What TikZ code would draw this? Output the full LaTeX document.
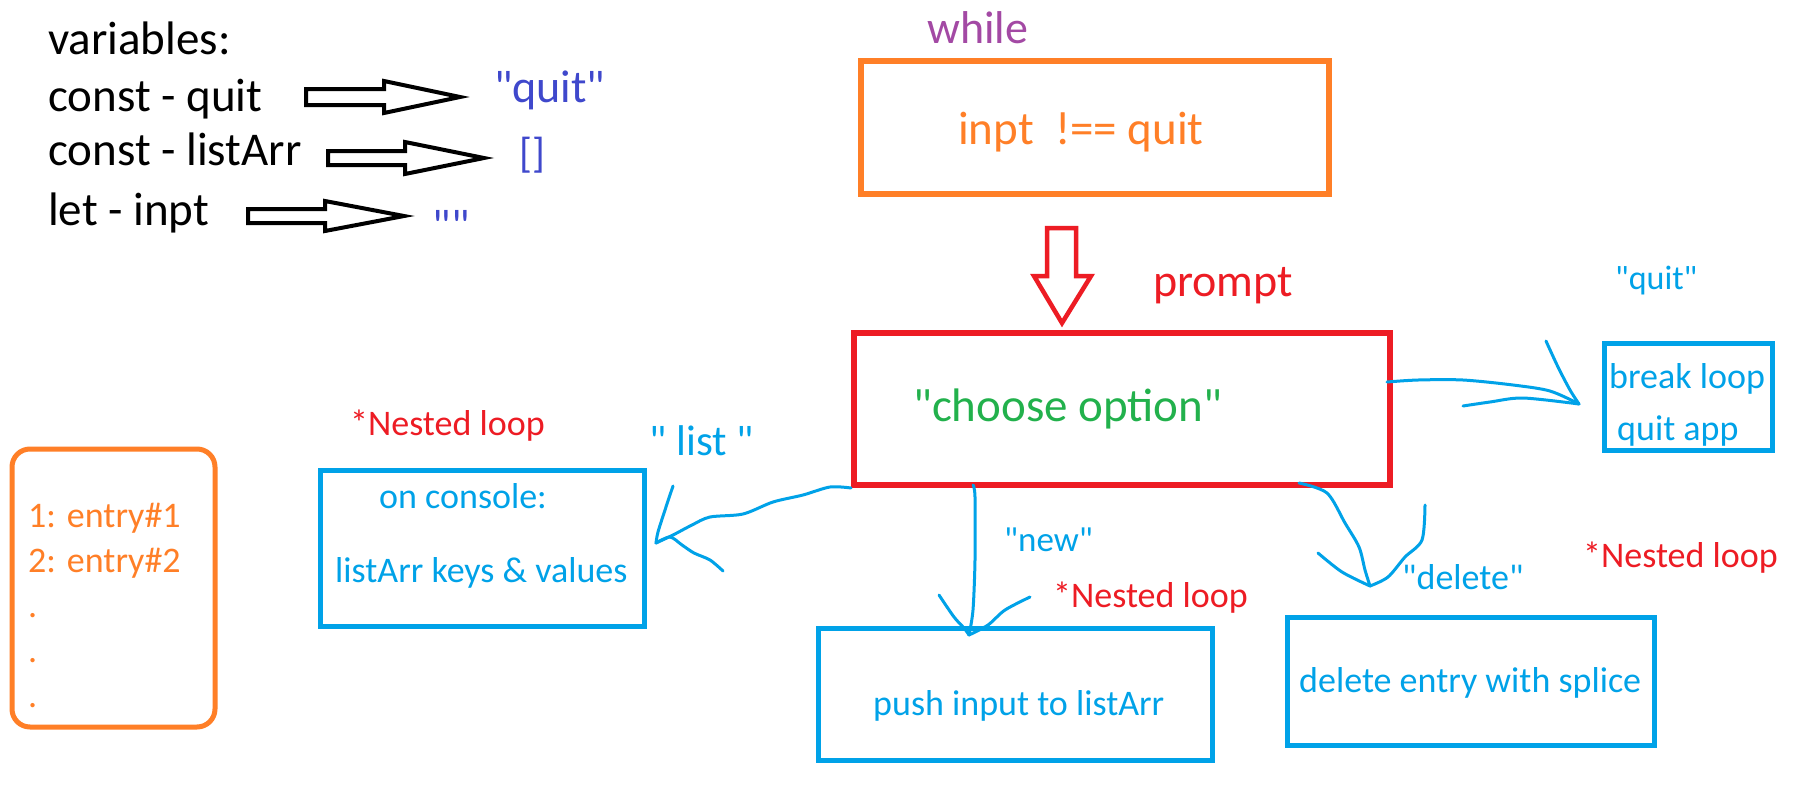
\documentclass[tikz,border=0pt]{standalone}
\usepackage{fontspec}
\setmainfont{Carlito}[Ligatures=TeXOff]
\definecolor{indig}{HTML}{3F48CC}
\definecolor{purp}{HTML}{A349A4}
\definecolor{orng}{HTML}{FF7F27}
\definecolor{rred}{HTML}{ED1C24}
\definecolor{grn}{HTML}{22B14C}
\definecolor{sky}{HTML}{00A2E8}
\begin{document}
\begin{tikzpicture}[x=1pt,y=-1pt,
  txt/.style={inner sep=0pt, anchor=base west},
  fs/.style={font=\fontsize{#1}{#1}\selectfont},
  boxed/.style={draw, rectangle, inner sep=0pt},
  pen/.style={draw=sky, line width=3pt, line cap=round, line join=round},
  hollow/.style={draw=black, line width=4pt, line join=miter, fill=white}]
\fill[white] (0,0) rectangle (1805,796);
\useasboundingbox (0,0) rectangle (1805,796);

% ---- variables block ----
\node[txt,fs=47] (vars) at (48,54) {variables:};
\node[txt,fs=47] (cq) at (48,111) {const - quit};
\node[txt,fs=47] (cl) at (48,165) {const - listArr};
\node[txt,fs=47] (li) at (48,225) {let - inpt};
\node[txt,fs=46,text=indig] (vq) at (494,102) {"quit"};
\node[inner sep=0pt,anchor=base,fs=42,text=indig] (vl) at (532,167) {[]};
\node[inner sep=0pt,anchor=base,fs=46,text=indig] (vi) at (451,241) {""};

% hollow arrows
\draw[hollow] (306,89) -- (384,89) -- (384,81) -- (460,97) -- (384,113) -- (384,105) -- (306,105) -- cycle;
\draw[hollow] (328,151) -- (405,151) -- (405,142) -- (484,158) -- (405,174) -- (405,165) -- (328,165) -- cycle;
\draw[hollow] (248,209) -- (325,209) -- (325,201) -- (404,216) -- (325,231) -- (325,223) -- (248,223) -- cycle;

% ---- while ----
\node[txt,fs=46,text=purp] (whilelbl) at (927,43) {while};
\node[boxed,draw=orng,line width=6pt,minimum width=468pt,minimum height=133pt] (whilebox) at (1095,127.5) {};
\node[txt,fs=47,text=orng] (cond) at (958,144) {inpt\ \ !== quit};

% red down arrow
\draw[draw=rred,line width=4.5pt,line join=miter] (1047,228) -- (1076,228) -- (1076,276) -- (1091,276) -- (1062,323) -- (1034,276) -- (1047,276) -- cycle;
\node[txt,fs=46,text=rred] (promptlbl) at (1153,296) {prompt};

% ---- prompt box ----
\node[boxed,draw=rred,line width=6pt,minimum width=536pt,minimum height=152pt] (promptbox) at (1122,409) {};
\node[txt,fs=47,text=grn] (choose) at (913,421) {"choose option"};

% ---- quit branch ----
\node[txt,fs=34,text=sky] (quitlbl) at (1615,289) {"quit"};
\node[boxed,draw=sky,line width=5pt,minimum width=168pt,minimum height=107pt] (quitbox) at (1688,396.5) {};
\node[txt,fs=36,text=sky] (brk) at (1609,388) {break loop};
\node[txt,fs=36,text=sky] (qapp) at (1617,440) {quit app};
\coordinate (qs) at (1387,382);
\coordinate (qtip) at (1579,404);
\draw[pen] plot[smooth] coordinates {(qs) (1418,380) (1463,380) (1513,385) (1550,391) (qtip)};
\draw[pen] plot[smooth] coordinates {(1546,341) (1558,367) (1570,390) (qtip)};
\draw[pen] plot[smooth] coordinates {(1463,406) (1490,402) (1523,398) (qtip)};

% ---- list branch ----
\node[txt,fs=36,text=rred] (nest1) at (350,435) {*Nested loop};
\node[inner sep=0pt,anchor=base,fs=43,text=sky] (listlbl) at (702,455) {"\ list\ "};
\node[boxed,draw=sky,line width=5pt,minimum width=324pt,minimum height=156pt] (consolebox) at (482,548) {};
\node[txt,fs=36,text=sky] (onc) at (379,508) {on console:};
\node[txt,fs=36,text=sky] (lkv) at (335,582) {listArr keys \& values};
\coordinate (ltip) at (656,543);
\draw[pen] plot[smooth] coordinates {(promptbox.south west) (830,487) (803,495) (773,502) (743,514) (710,517) (692,525) (673,535) (ltip)};
\draw[pen] plot[smooth] coordinates {(673,486) (665,510) (658,532) (ltip)};
\draw[pen] plot[smooth] coordinates {(ltip) (670,537) (682,545) (694,553) (710,560) (723,571)};

% ---- new branch ----
\node[txt,fs=35,text=sky] (newlbl) at (1004,551) {"new"};
\node[txt,fs=36,text=rred] (nest2) at (1053,607) {*Nested loop};
\node[boxed,draw=sky,line width=5pt,minimum width=394pt,minimum height=132pt] (pushbox) at (1015,694) {};
\node[txt,fs=36,text=sky] (pushtxt) at (873,715) {push input to listArr};
\coordinate (ns) at (973,485);
\coordinate (ntip) at (969,635);
\draw[pen] plot[smooth] coordinates {(ns) (975,497) (975,560) (973,610) (ntip)};
\draw[pen] plot[smooth] coordinates {(939,595) (954,617) (964,628) (ntip)};
\draw[pen] plot[smooth] coordinates {(1030,597) (1005,610) (988,625) (ntip)};

% ---- delete branch ----
\node[txt,fs=36,text=sky] (dellbl) at (1402,589) {"delete"};
\node[txt,fs=36,text=rred] (nest3) at (1583,567) {*Nested loop};
\node[boxed,draw=sky,line width=5pt,minimum width=367pt,minimum height=128pt] (delbox) at (1470.5,681) {};
\node[txt,fs=36,text=sky] (deltxt) at (1299,692) {delete entry with splice};
\coordinate (ds) at (1299,483);
\coordinate (dtip) at (1370,586);
\draw[pen] plot[smooth] coordinates {(ds) (1327,493) (1345,523) (1359,547) (1365,570) (dtip)};
\draw[pen] plot[smooth] coordinates {(1318,553) (1342,572) (dtip)};
\draw[pen] plot[smooth] coordinates {(1425,505) (1422,540) (1405,557) (1388,577) (dtip)};

% ---- list of entries ----
\node[boxed,draw=orng,line width=5pt,rounded corners=18pt,minimum width=203pt,minimum height=278pt] (entries) at (113.5,588) {};
\node[txt,fs=36,text=orng] (e1) at (28,527) {1: entry\#1};
\node[txt,fs=36,text=orng] (e2) at (28,572) {2: entry\#2};
\node[txt,fs=36,text=orng] (d1) at (28,617) {.};
\node[txt,fs=36,text=orng] (d2) at (28,662) {.};
\node[txt,fs=36,text=orng] (d3) at (28,707) {.};
\end{tikzpicture}
\end{document}
